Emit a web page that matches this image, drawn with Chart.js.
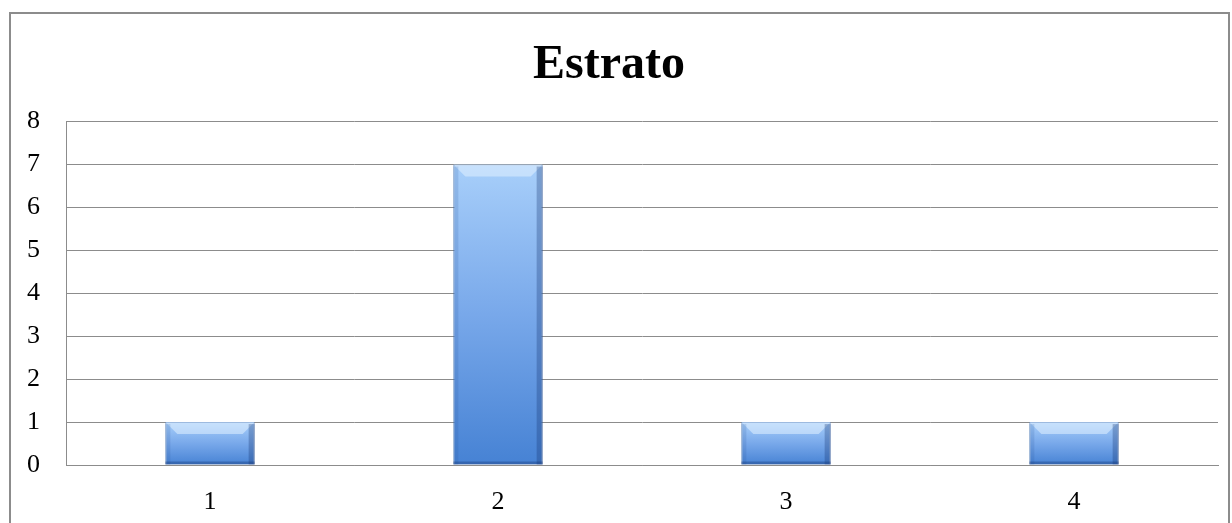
<!DOCTYPE html>
<html>
<head>
<meta charset="utf-8">
<script src="https://cdn.jsdelivr.net/npm/chart.js@4"></script>
<style>
    html, body { margin: 0; padding: 0; background: #fff; overflow: hidden; }
    #frame { position: absolute; left: 9px; top: 12px; width: 1221px; height: 530px; border: 2px solid #8c8c8c; box-sizing: border-box; }
    #wrap { position: absolute; left: 0; top: 0; width: 1232px; height: 523px; }
</style>
</head>
<body>
<div id="frame"></div>
<div id="wrap"><canvas id="estratoChart" width="1232" height="523"></canvas></div>
<script>
// chart data
const categories = ['1', '2', '3', '4'];
const counts = [1, 7, 1, 1];
const yTicks = [0, 1, 2, 3, 4, 5, 6, 7, 8];

const serif = "'Liberation Serif', 'DejaVu Serif', serif";

function barGradient(context) {
    const chart = context.chart;
    const y = chart.scales && chart.scales.y;
    if (!chart.chartArea || !y) return '#6a9be0';
    const top = y.getPixelForValue(context.raw);
    const bottom = y.getPixelForValue(0);
    const g = chart.ctx.createLinearGradient(0, top, 0, bottom);
    g.addColorStop(0, '#a8cffa');
    g.addColorStop(0.5, '#78a8ea');
    g.addColorStop(1, '#4682d4');
    return g;
}

// soft bevel on each bar
const bevelPlugin = {
    id: 'bevel',
    afterDatasetsDraw(chart) {
        const ctx = chart.ctx;
        chart.getDatasetMeta(0).data.forEach(bar => {
            const left = bar.x - bar.width / 2;
            const right = bar.x + bar.width / 2;
            const top = bar.y;
            const bottom = bar.base;
            const b = 12;
            ctx.save();
            // top highlight
            ctx.fillStyle = 'rgba(225,240,255,0.55)';
            ctx.beginPath();
            ctx.moveTo(left, top);
            ctx.lineTo(right, top);
            ctx.lineTo(right - b, top + b);
            ctx.lineTo(left + b, top + b);
            ctx.closePath();
            ctx.fill();
            // side shading
            ctx.fillStyle = 'rgba(40,80,150,0.16)';
            ctx.fillRect(left, top + 2, 5, bottom - top - 2);
            ctx.fillStyle = 'rgba(20,50,110,0.3)';
            ctx.fillRect(right - 6, top + 2, 6, bottom - top - 2);
            ctx.fillStyle = 'rgba(20,50,110,0.35)';
            ctx.fillRect(left, bottom - 3, bar.width, 3);
            ctx.restore();
        });
    }
};

document.addEventListener('DOMContentLoaded', function() {
    const ctx = document.getElementById('estratoChart');
    new Chart(ctx, {
        type: 'bar',
        data: {
            labels: categories,
            datasets: [{
                data: counts,
                backgroundColor: barGradient,
                borderColor: '#4a78b8',
                borderWidth: 1,
                categoryPercentage: 1,
                barPercentage: 0.31
            }]
        },
        options: {
            responsive: false,
            animation: false,
            devicePixelRatio: 1,
            layout: { padding: { left: 0, right: 14, top: 0, bottom: 0 } },
            plugins: {
                legend: { display: false },
                tooltip: { enabled: false },
                title: {
                    display: true,
                    text: 'Estrato',
                    color: '#000',
                    font: { family: serif, size: 48, weight: 'bold' },
                    padding: { top: 37, bottom: 27 }
                }
            },
            scales: {
                x: {
                    grid: { display: false },
                    border: { display: true, color: '#8c8c8c', width: 1 },
                    ticks: { color: '#000', font: { family: serif, size: 26 }, padding: 14 },
                    afterFit(scale) { scale.height = 58; }
                },
                y: {
                    min: 0,
                    max: 8,
                    afterBuildTicks(scale) { scale.ticks = yTicks.map(v => ({ value: v })); },
                    grid: { color: '#8c8c8c', lineWidth: 1, drawTicks: false },
                    border: { display: true, color: '#8c8c8c', width: 1 },
                    ticks: { color: '#000', font: { family: serif, size: 26 }, padding: 26 },
                    afterFit(scale) { scale.width = 66; }
                }
            }
        },
        plugins: [bevelPlugin]
    });
});
</script>
</body>
</html>
